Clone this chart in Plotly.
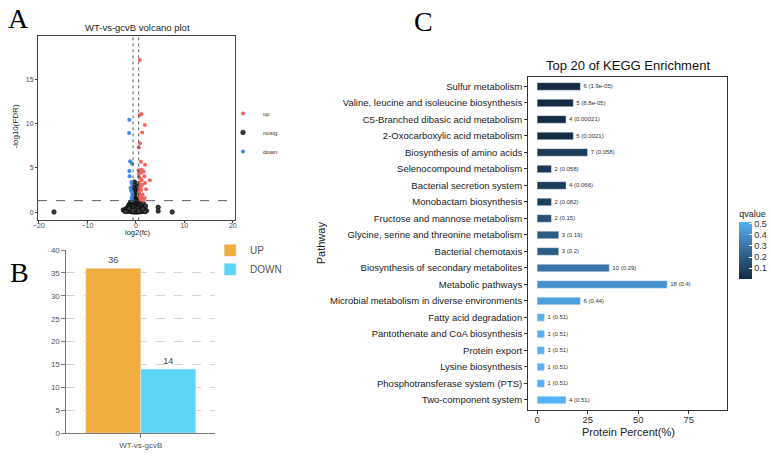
import plotly.graph_objects as go

W, H = 771, 458


def fx(px):
    return px / W


def fy(py):
    return 1 - py / H


# ---------------- Panel A: volcano data ----------------
up_x = [0.82, 0.80, 1.15, 1.85, 1.30, 0.85, 0.60, 1.05, 1.90, 0.55, 0.95, 1.20,
        0.65, 1.05, 1.60, 1.75, 0.60, 1.20, 2.90, 1.90, 1.30, 0.75, 1.10, 0.70,
        0.60, 1.25, 1.80, 0.90, 1.15, 1.55, 0.68, 1.40, 2.10, 0.95, 0.62, 1.00]
up_y = [17.2, 11.0, 11.1, 9.85, 9.0, 7.8, 7.3, 5.7, 5.35, 4.75, 4.75, 4.8,
        4.4, 4.45, 4.6, 4.05, 4.0, 3.6, 3.6, 3.3, 3.1, 2.7, 2.5, 2.3,
        1.85, 1.65, 1.6, 1.5, 1.4, 1.35, 2.05, 2.0, 2.6, 3.8, 3.35, 2.9]

down_x = [-1.35, -1.40, -1.20, -0.80, -1.35, -1.30, -0.90, -0.85, -1.10, -1.00,
          -0.75, -0.70, -0.90, -0.75]
down_y = [10.45, 8.95, 5.75, 5.5, 4.65, 4.05, 3.4, 3.2, 2.75, 2.45, 2.2, 1.9,
          1.6, 1.35]

band_x = [-0.30, 0.20, -0.10, 0.40, -0.45, 0.10, -0.20, 0.35, -0.50, 0.00, 0.25,
          -0.35, 0.45, -0.15, 0.10, -0.40, 0.30, -0.05, 0.50, -0.25, 0.15, -0.50,
          0.40, 0.05]
band_y = [3.40, 3.20, 3.00, 2.90, 2.80, 2.60, 2.50, 2.40, 2.30, 2.20, 2.10, 2.00,
          1.95, 1.90, 1.80, 1.75, 1.70, 1.60, 1.55, 1.50, 1.45, 1.40, 1.35, 1.35]

cluster_x = [-2.6, -2.3, -2.1, -1.9, -1.8, -1.7, -1.6, -1.5, -1.45, -1.4,
             -1.3, -1.25, -1.2, -1.1, -1.05, -1.0, -0.95, -0.9, -0.85, -0.8, -0.75,
             -0.7, -0.65, -0.6, -0.55, -0.5, -0.45, -0.4, -0.35, -0.3, -0.25, -0.2,
             -0.15, -0.1, -0.05, 0.0, 0.05, 0.1, 0.15, 0.2, 0.25, 0.3, 0.35, 0.4,
             0.45, 0.5, 0.55, 0.6, 0.65, 0.7, 0.75, 0.8, 0.85, 0.9, 0.95, 1.0, 1.1,
             1.2, 1.3, 1.4, 1.5, 1.6, 1.8, 2.0, 2.2,
             -1.0, -0.6, -0.2, 0.2, 0.6, 1.0, -0.4, 0.4, 0.0, -0.8, 0.8, -1.6, 1.6,
             -0.3, 0.3, -0.7, 0.7, -1.2, 1.2, 0.1, -0.1, 0.5, -0.5, 0.9, -0.9,
             -2.0, 1.9, -1.4, 1.4, 0.0, 0.2, -0.2, 0.6, -0.6]
cluster_y = [0.25, 0.10, 0.35, 0.20, 0.45, 0.12, 0.60, 0.30, 0.80, 0.18,
             0.55, 0.95, 0.25, 0.70, 1.10, 0.40, 0.15, 0.85, 1.20, 0.50, 0.30,
             1.00, 0.65, 0.20, 0.90, 1.15, 0.45, 0.75, 0.10, 1.05, 0.60, 0.35,
             0.95, 0.20, 1.25, 0.50, 0.80, 0.15, 1.10, 0.40, 0.70, 0.25, 1.00, 0.55,
             0.85, 0.30, 1.20, 0.65, 0.10, 0.90, 0.45, 0.75, 1.15, 0.20, 0.60, 0.95,
             0.35, 0.80, 0.15, 0.50, 1.05, 0.25, 0.40, 0.70, 0.15,
             0.05, 0.05, 0.05, 0.05, 0.05, 0.05, 0.02, 0.02, 0.02, 0.08, 0.08, 0.10,
             0.10, 0.30, 0.28, 0.35, 0.32, 0.20, 0.22, 0.60, 0.55, 0.45, 0.40, 0.12,
             0.15, 0.08, 0.05, 0.40, 0.35, 0.15, 0.35, 0.25, 0.12, 0.18]

outlier_x = [-16.9, 4.6, 4.6, 7.5]
outlier_y = [0.02, 0.55, 0.12, 0.02]

nosig_x = band_x + cluster_x + outlier_x
nosig_y = band_y + cluster_y + outlier_y

fc_threshold = 0.58
fdr_threshold = 1.3

# ---------------- Panel B: counts ----------------
comparison = ["WT-vs-gcvB"]
up_count = [36]
down_count = [14]

# ---------------- Panel C: KEGG ----------------
pathways = [
    "Sulfur metabolism",
    "Valine, leucine and isoleucine biosynthesis",
    "C5-Branched dibasic acid metabolism",
    "2-Oxocarboxylic acid metabolism",
    "Biosynthesis of amino acids",
    "Selenocompound metabolism",
    "Bacterial secretion system",
    "Monobactam biosynthesis",
    "Fructose and mannose metabolism",
    "Glycine, serine and threonine metabolism",
    "Bacterial chemotaxis",
    "Biosynthesis of secondary metabolites",
    "Metabolic pathways",
    "Microbial metabolism in diverse environments",
    "Fatty acid degradation",
    "Pantothenate and CoA biosynthesis",
    "Protein export",
    "Lysine biosynthesis",
    "Phosphotransferase system (PTS)",
    "Two-component system",
]
counts = [6, 5, 4, 5, 7, 2, 4, 2, 2, 3, 3, 10, 18, 6, 1, 1, 1, 1, 1, 4]
percent = [21.4, 17.9, 14.3, 17.9, 25.0, 7.1, 14.3, 7.1, 7.1, 10.7, 10.7, 35.7,
           64.3, 21.4, 3.6, 3.6, 3.6, 3.6, 3.6, 14.3]
qvalues = [1.9e-05, 8.8e-05, 0.00021, 0.0021, 0.058, 0.058, 0.066, 0.082, 0.15,
           0.19, 0.2, 0.29, 0.4, 0.44, 0.51, 0.51, 0.51, 0.51, 0.51, 0.51]
qlabels = ["1.9e-05", "8.8e-05", "0.00021", "0.0021", "0.058", "0.058", "0.066",
           "0.082", "0.15", "0.19", "0.2", "0.29", "0.4", "0.44", "0.51", "0.51",
           "0.51", "0.51", "0.51", "0.51"]
bar_text = [f"{c} ({q})" for c, q in zip(counts, qlabels)]
qticks = [0.1, 0.2, 0.3, 0.4, 0.5]

fig = go.Figure()

# Panel A traces
fig.add_trace(go.Scatter(
    x=nosig_x, y=nosig_y, mode="markers", name="nosig", legendrank=2,
    marker=dict(size=4.5, color="#3A3A3A", line=dict(color="#000000", width=0.6)),
    xaxis="x", yaxis="y", legend="legend"))
fig.add_trace(go.Scatter(
    x=up_x, y=up_y, mode="markers", name="up", legendrank=1,
    marker=dict(size=4, color="#F4655F"),
    xaxis="x", yaxis="y", legend="legend"))
fig.add_trace(go.Scatter(
    x=down_x, y=down_y, mode="markers", name="down", legendrank=3,
    marker=dict(size=4, color="#3C8BEA"),
    xaxis="x", yaxis="y", legend="legend"))

# Panel B traces
fig.add_trace(go.Bar(
    x=comparison, y=up_count, name="UP", width=0.37, offset=-0.37,
    marker=dict(color="#F0AD40"), text=[str(v) for v in up_count],
    textposition="outside", textfont=dict(size=9, color="#444444"),
    cliponaxis=False, xaxis="x2", yaxis="y2", legend="legend2"))
fig.add_trace(go.Bar(
    x=comparison, y=down_count, name="DOWN", width=0.37, offset=0.0,
    marker=dict(color="#5ED5F6"), text=[str(v) for v in down_count],
    textposition="outside", textfont=dict(size=9, color="#444444"),
    cliponaxis=False, xaxis="x2", yaxis="y2", legend="legend2"))

# Panel C trace
fig.add_trace(go.Bar(
    y=pathways, x=percent, orientation="h", width=0.46, showlegend=False,
    marker=dict(
        color=qvalues, cmin=min(qvalues), cmax=max(qvalues),
        colorscale=[[0, "#132B43"], [0.5, "#336A98"], [1, "#56B1F7"]],
        colorbar=dict(
            title=dict(text="qvalue", side="top", font=dict(size=9, color="#222")),
            tickvals=qticks, tickfont=dict(size=9, color="#333"),
            thickness=13, lenmode="pixels", len=72,
            x=fx(741), xanchor="left", xpad=0,
            y=fy(281), yanchor="bottom", ypad=0,
            outlinewidth=0, ticks="inside", tickcolor="white", ticklen=3,
        ),
    ),
    text=bar_text, textposition="outside", constraintext="none",
    textfont=dict(size=6, color="#333333"), cliponaxis=False,
    xaxis="x3", yaxis="y3"))

axis_common = dict(showgrid=False, zeroline=False, showline=True, ticks="outside")

fig.update_layout(
    width=W, height=H, margin=dict(l=0, r=0, t=0, b=0),
    paper_bgcolor="white", plot_bgcolor="white",
    font=dict(family="Liberation Sans, Arial", color="#333"),
    barmode="overlay",
    xaxis=dict(domain=[fx(33.3), fx(232.3)], range=[-20.2, 20.5],
               tickvals=[-20, -10, 0, 10, 20], mirror=True, linecolor="#444",
               linewidth=1, ticklen=2, tickcolor="#444", ticklabelstandoff=-4,
               tickfont=dict(size=7, color="#4D4D4D"), anchor="y", **axis_common),
    yaxis=dict(domain=[fy(220.7), fy(32.3)], range=[-0.93, 19.96],
               tickvals=[0, 5, 10, 15], mirror=True, linecolor="#444",
               linewidth=1, ticklen=2, tickcolor="#444",
               tickfont=dict(size=7, color="#4D4D4D"), anchor="x", **axis_common),
    xaxis2=dict(domain=[fx(62), fx(212)], range=[-0.5, 0.5], type="category",
                linecolor="#777", ticklen=4, tickcolor="#777",
                tickfont=dict(size=8, color="#555"), anchor="y2", **axis_common),
    yaxis2=dict(domain=[fy(437.7), fy(251)], range=[0, 40], dtick=5,
                showgrid=True, gridcolor="#D5D5D5", griddash="dash",
                zeroline=False, showline=True, ticks="outside",
                linecolor="#777", ticklen=4, tickcolor="#777",
                tickfont=dict(size=8, color="#555"), anchor="x2"),
    xaxis3=dict(domain=[fx(528), fx(729)], range=[-4.4, 94.1],
                tickvals=[0, 25, 50, 75], mirror=True, linecolor="#333",
                linewidth=1.2, ticklen=3, tickcolor="#333", ticklabelstandoff=-2,
                tickfont=dict(size=9.5, color="#333"), anchor="y3", **axis_common),
    yaxis3=dict(domain=[fy(414), fy(74)], range=[19.6, -0.6], type="category",
                mirror=True, linecolor="#333", linewidth=1.2, ticklen=3,
                tickcolor="#333", tickfont=dict(size=9.5, color="#1A1A1A"),
                anchor="x3", **axis_common),
    legend=dict(x=fx(220), y=fy(131), xanchor="left", yanchor="middle",
                font=dict(size=6, color="#333"), bgcolor="rgba(0,0,0,0)",
                tracegroupgap=0, itemwidth=30),
    legend2=dict(x=fx(207), y=fy(261), xanchor="left", yanchor="middle",
                 font=dict(size=10, color="#555"), bgcolor="rgba(0,0,0,0)",
                 tracegroupgap=0),
)

# reference lines in panel A
for xv in (-fc_threshold, fc_threshold):
    fig.add_shape(type="line", xref="x", yref="y domain", x0=xv, x1=xv, y0=0, y1=1,
                  line=dict(color="#333", width=0.8, dash="dot"))
fig.add_shape(type="line", xref="x domain", yref="y", x0=0, x1=1,
              y0=fdr_threshold, y1=fdr_threshold,
              line=dict(color="#333", width=0.8, dash="dash"))

ann = [
    dict(text="WT-vs-gcvB volcano plot", x=fx(134), y=fy(24), size=9.5, color="#222"),
    dict(text="-log10(FDR)", x=fx(11), y=fy(125), size=8, color="#222", angle=-90),
    dict(text="log2(fc)", x=fx(134), y=fy(233), size=7.5, color="#222"),
    dict(text="Top 20 of KEGG Enrichment", x=fx(629), y=fy(63), size=13, color="#111"),
    dict(text="Pathway", x=fx(319), y=fy(244), size=11, color="#222", angle=-90),
    dict(text="Protein Percent(%)", x=fx(629), y=fy(437), size=11, color="#222"),
]
for a in ann:
    fig.add_annotation(text=a["text"], x=a["x"], y=a["y"], xref="paper", yref="paper",
                       showarrow=False, textangle=a.get("angle", 0),
                       xanchor="center", yanchor="middle",
                       font=dict(size=a["size"], color=a["color"],
                                 family="Liberation Sans, Arial"))

for letter, px, py in (("A", 14, 15), ("B", 15, 274), ("C", 422, 18)):
    fig.add_annotation(text=letter, x=fx(px), y=fy(py), xref="paper", yref="paper",
                       showarrow=False, xanchor="center", yanchor="middle",
                       font=dict(size=28, color="#000", family="Liberation Serif"))

fig.write_html(
    "out.html",
    config={"displayModeBar": False},
    post_script="document.body.style.margin='0';document.body.style.padding='0';",
)
